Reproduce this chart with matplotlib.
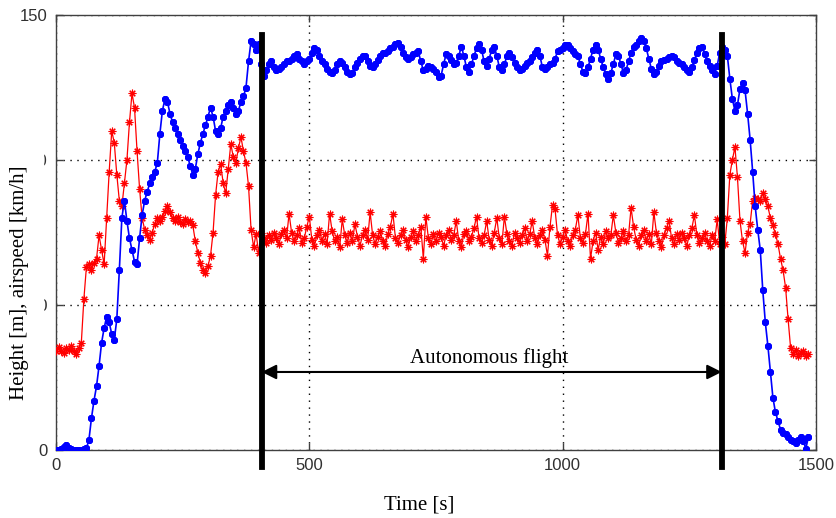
import matplotlib.pyplot as plt
import matplotlib.patches as mpatches
import numpy as np

# flight log sampled every 5 s
time_s = np.arange(0, 1490, 5)

height_m = [
    0.0, 0.0, 0.3, 0.9, 1.6, 0.8, 0.2, 0.0, 0.0, 0.1,
    0.0, 0.2, 0.6, 3.5, 11, 17, 22, 29, 37, 42,
    46, 44, 40, 38, 45, 62, 80, 86, 79, 73,
    69, 65, 64, 73, 81, 86, 89, 92, 94, 96,
    99, 109, 117, 121, 120, 116, 113, 111, 109, 107,
    105, 103, 101, 98, 95, 97, 102, 106, 109, 112,
    115, 118, 115, 110, 109, 111, 115, 117, 119, 120,
    118, 116, 117, 120, 122, 125, 134, 141, 140, 138,
    140, 133, 129, 131, 133, 134, 132, 131, 131.5, 132,
    133, 134, 134, 135, 136, 136.5, 135, 134, 133, 134,
    135, 137, 138.5, 138, 136, 134, 133, 131.5, 130.5, 130,
    131, 133, 134, 133.5, 132, 130.5, 129.5, 130, 132, 133.5,
    135, 136, 136, 134, 132.5, 132, 133, 134.5, 136, 137,
    137, 137.5, 138.5, 139, 140, 140.5, 139, 137, 135.5, 135,
    135.5, 136.5, 137, 137.5, 134, 131, 131.5, 132.5, 132, 131.5,
    130.5, 128.5, 129, 133, 136.5, 136, 134.5, 133, 133.5, 136,
    139, 136, 132, 130.5, 133, 136, 138.5, 140, 138, 134,
    132.5, 135, 138, 139, 136, 132, 131, 133, 136, 137,
    135.5, 133.5, 132, 131, 131.5, 132.5, 133.5, 134, 135.5, 137,
    138, 136, 132, 131.5, 132, 133, 133.5, 135, 137.5, 138,
    138.5, 139.5, 139.5, 138.5, 137.5, 136.5, 136, 133, 130.5, 130,
    132, 135, 138, 139.5, 138, 135, 132, 129.5, 128, 130,
    133, 136.5, 136, 133, 130, 131, 134, 137, 139, 139.5,
    141, 142, 141, 138.5, 135, 131.5, 129.5, 130.5, 132.5, 134,
    134.5, 135, 135.5, 136, 135.5, 134, 133.5, 133, 132, 131,
    130.5, 132, 134.5, 137, 138.5, 139, 136.5, 134, 132.5, 131,
    129.5, 132.5, 137, 139, 138, 136, 128, 121, 117, 119,
    124.5, 126.5, 124, 116, 107, 96, 84, 76, 69, 55,
    44, 36, 27, 18, 13, 10, 7, 6, 5.5, 4.5,
    3.5, 3, 2.5, 3.5, 4.5, 3, 0.5, 4.5,
]

airspeed_kmh = [
    34, 35.5, 34, 33.5, 35, 34.5, 36, 34, 33, 35,
    37, 52, 63, 64, 62, 64.5, 66, 74, 69, 64,
    80, 96, 110, 106, 95, 86, 84, 92, 100, 113,
    123, 118, 103, 90, 80, 76, 74, 72.5, 75, 78,
    80, 79, 80.5, 82.5, 84, 82, 80, 79, 80.5, 78.5,
    78, 79.5, 78.5, 79, 77.5, 72, 68, 64.5, 62, 61,
    63.5, 67, 75, 88, 96, 98.5, 92, 88.5, 97, 105.5,
    101, 99, 104, 108, 103, 99, 91, 76, 70, 74.5,
    68, 75, 73, 71.5, 74, 72.5, 75, 73, 71, 74.5,
    76, 73, 81.5, 75, 72, 74, 76.5, 71.5, 73, 77,
    80.5, 72.5, 70.5, 74, 76, 72, 74.5, 71, 81.5, 75.5,
    72, 73.5, 70, 79.5, 74, 71.5, 75, 72, 78, 73.5,
    70.5, 74, 76, 72.5, 82, 74, 71, 73.5, 75.5, 72,
    70.5, 74.5, 77, 81.5, 73, 71.5, 74, 76, 72.5, 70,
    73.5, 75.5, 72, 74, 77, 66, 80.5, 73, 71, 74.5,
    72, 75, 73.5, 70.5, 74, 76, 72.5, 74, 79, 72,
    70, 74.5, 75.5, 72, 73.5, 76.5, 80.5, 73, 71.5, 74,
    79, 72.5, 70.5, 75, 80, 73, 71, 80.5, 74.5, 72,
    70.5, 75, 73, 71.5, 74, 76.5, 72, 74.5, 79, 73,
    71, 74, 76, 72.5, 67, 77, 84.5, 83, 74, 71,
    73.5, 76, 72, 70.5, 74, 76, 81, 73, 71.5, 74.5,
    81.5, 66, 72, 75, 69, 73.5, 71, 75.5, 73, 74,
    81, 75, 71.5, 73, 75.5, 72, 74, 83.5, 77, 72.5,
    70.5, 74, 76, 72, 74.5, 71, 82, 75, 72, 70,
    74, 76.5, 79, 73, 71, 74.5, 72.5, 75, 73, 70.5,
    74, 76.5, 81, 74, 71.5, 73, 75, 72, 70.5, 74,
    72, 79.5, 71, 73.5, 71, 80, 95, 100, 104.5, 94,
    79, 72, 68, 75, 78, 86, 87, 86.5, 86, 88.5,
    86.5, 84, 80, 77.5, 74.5, 71, 66, 62, 56, 45,
    35, 33, 34.5, 32.5, 33.5, 34, 32.5, 33,
]

# start / end of the autonomous part of the flight
auto_start = 406
auto_end = 1314

fig = plt.figure(figsize=(8.37, 5.18), dpi=100)
ax = fig.add_axes([0.0669, 0.1313, 0.908, 0.8397])

asterisk = (8, 2, 0)
ax.plot(time_s, airspeed_kmh, color='#ff0000', lw=0.9, marker=asterisk,
        markersize=5.5, markeredgewidth=0.8, zorder=3)
ax.plot(time_s, height_m, color='#0000ff', lw=1.2, marker=asterisk,
        markersize=5, markeredgewidth=1.4, zorder=4)

ax.set_xlim(0, 1500)
ax.set_ylim(0, 150)
ax.set_xticks([0, 500, 1000, 1500])
ax.set_yticks([0, 50, 100, 150])
ax.grid(True, color='black', linestyle=(0, (1, 4)), lw=1)
ax.tick_params(direction='in', top=True, right=True, length=5, width=1,
               pad=6, labelsize=12, colors='#404040', labelcolor='#303030')
for lbl in ax.get_xticklabels() + ax.get_yticklabels():
    lbl.set_family('Liberation Sans')
for sp in ax.spines.values():
    sp.set_color('#404040')
    sp.set_linewidth(1)

# thick markers bounding the autonomous phase
for xv in (auto_start, auto_end):
    ax.plot([xv, xv], [-5.9, 143], color='black', lw=4.2, clip_on=False, zorder=6)

ax.annotate('', xy=(auto_start, 26.9), xytext=(auto_end, 26.9),
            arrowprops=dict(arrowstyle='<|-|>', color='black', lw=1.5,
                            mutation_scale=22, shrinkA=0, shrinkB=0), zorder=5)
ax.text(855, 31.8, 'Autonomous flight', family='Liberation Serif', fontsize=15,
        ha='center', va='center', zorder=5)

# white strip over the left edge of the label area
fig.patches.append(mpatches.Rectangle((0, 88 / 518), 43 / 837, 390 / 518,
                                      transform=fig.transFigure, color='white',
                                      zorder=5))
fig.text(20 / 837, 1 - 283 / 518, 'Height [m], airspeed [km/h]', rotation=90,
         family='Liberation Serif', fontsize=15, ha='center', va='center', zorder=6)
fig.text(419 / 837, 1 - 505 / 518, 'Time [s]', family='Liberation Serif',
         fontsize=15, ha='center', va='center')

plt.savefig('out.png', dpi=100)
